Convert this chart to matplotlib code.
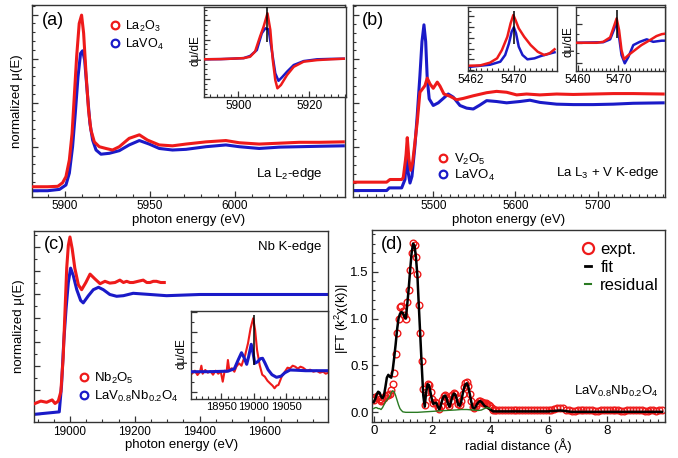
import matplotlib
matplotlib.use('Agg')
import matplotlib.pyplot as plt
from matplotlib.lines import Line2D
from matplotlib.ticker import MultipleLocator, NullFormatter, FixedLocator

plt.rcParams['font.family'] = ['Liberation Sans', 'DejaVu Sans']
plt.rcParams['mathtext.fontset'] = 'custom'
plt.rcParams['mathtext.rm'] = 'Liberation Sans'
plt.rcParams['mathtext.it'] = 'Liberation Sans:italic'
plt.rcParams['mathtext.bf'] = 'Liberation Sans:bold'

# ---------------- tick label values ----------------
a_xticks = [5900, 5950, 6000]
ia_xticks = [5900, 5920]
b_xticks = [5500, 5600, 5700]
ib1_xticks = [5462, 5470]
ib2_xticks = [5460, 5470]
c_xticks = [19000, 19200, 19400, 19600]
ic_xticks = [18950, 19000, 19050]
d_xticks = [0, 2, 4, 6, 8]
d_yticks = [0.0, 0.5, 1.0, 1.5]

# ---------------- data: panel (a) La L2-edge ----------------
a_la2o3_E = [5881, 5890, 5896, 5898.8, 5900.8, 5902.8, 5904.4, 5905.7, 5907.1, 5908.6, 5910.0, 5911.2,
             5912.6, 5914.1, 5915.5, 5917.5, 5920.4, 5924.3, 5928.2, 5932.2, 5938.0, 5944.0, 5948.8,
             5955.7, 5963.5, 5971.4, 5983.2, 5994.9, 6002.8, 6014.5, 6026.3, 6038.0, 6050, 6064]
a_la2o3_mu = [0.09, 0.09, 0.10, 0.18, 0.32, 0.70, 1.30, 2.14, 3.05, 3.80, 3.99, 3.58,
              2.67, 1.83, 1.38, 1.11, 1.00, 0.96, 0.925, 1.00, 1.19, 1.27, 1.15,
              1.04, 1.02, 1.06, 1.11, 1.14, 1.09, 1.06, 1.08, 1.10, 1.10, 1.11]
a_lavo4_E = [5881, 5890, 5897, 5900.8, 5902.8, 5904.7, 5906.3, 5907.9, 5909.4, 5910.6, 5911.8, 5913.4,
             5914.9, 5916.5, 5918.5, 5921.4, 5926.3, 5932.2, 5938.0, 5944.0, 5949.8, 5955.7, 5963.5,
             5971.4, 5983.2, 5994.9, 6002.8, 6014.5, 6026.3, 6038.0, 6050, 6064]
a_lavo4_mu = [0.0, 0.0, 0.03, 0.13, 0.40, 1.00, 1.76, 2.59, 3.12, 3.18, 2.97, 2.21,
              1.53, 1.15, 0.925, 0.83, 0.85, 0.91, 1.04, 1.14, 1.06, 0.96, 0.925,
              0.94, 1.00, 1.04, 1.00, 0.96, 0.99, 1.00, 1.01, 1.02]
# inset (a): derivative
ia_la2o3_E = [5890, 5895, 5898, 5901.5, 5903.3, 5904.7, 5906.1, 5907.1, 5908.2, 5909.0, 5909.7, 5910.4,
              5911.0, 5912.0, 5913.7, 5915.6, 5918.4, 5922.2, 5926, 5929.7]
ia_la2o3_d = [0.0, 0.01, 0.03, 0.06, 0.13, 0.39, 1.15, 1.65, 2.33, 1.49, -0.04, -1.05,
              -1.47, -1.30, -0.80, -0.38, -0.12, -0.04, 0.0, 0.03]
ia_lavo4_E = [5890, 5895, 5898, 5901.5, 5903.3, 5905.2, 5906.6, 5907.6, 5908.5, 5909.4, 5910.4, 5911.3,
              5912.3, 5913.7, 5915.6, 5918.4, 5922.2, 5926, 5929.7]
ia_lavo4_d = [0.0, 0.01, 0.03, 0.06, 0.17, 0.47, 1.32, 1.57, 1.52, 0.47, -0.71, -1.09,
              -0.91, -0.63, -0.29, -0.09, 0.0, 0.02, 0.03]
ia_mark_E = 5908.2

# ---------------- data: panel (b) La L3 + V K-edge ----------------
b_v2o5_E = [5402.7, 5443.3, 5447.3, 5461.6, 5463.5, 5466.8, 5468.4, 5470.4, 5472.5, 5474.9, 5477.7, 5480.5,
            5483.8, 5487.1, 5489.9, 5492.7, 5496.0, 5500.0, 5504.9, 5508.2, 5513.0, 5520.3, 5528.4,
            5536.5, 5548.7, 5565.0, 5577.1, 5589.3, 5601.5, 5613.6, 5629.8, 5650.1, 5670.3, 5694.6,
            5719.0, 5743.3, 5779.8]
b_v2o5_mu = [0.21, 0.21, 0.27, 0.27, 0.31, 0.80, 1.22, 0.73, 0.48, 0.65, 1.11, 1.57,
             2.25, 2.33, 2.40, 2.57, 2.44, 2.34, 2.48, 2.39, 2.21, 2.16, 2.08,
             2.11, 2.17, 2.24, 2.27, 2.25, 2.19, 2.21, 2.19, 2.21, 2.20, 2.21,
             2.22, 2.22, 2.21]
b_lavo4_E = [5402.7, 5443.3, 5446.5, 5461.6, 5465.6, 5467.6, 5469.6, 5471.7, 5474.1, 5477.7, 5480.5,
             5483.8, 5486.3, 5488.7, 5490.8, 5492.7, 5495.1, 5500.0, 5506.1, 5512.2, 5518.2, 5524.3,
             5532.5, 5540.6, 5548.7, 5556.8, 5565.0, 5577.1, 5589.3, 5605.5, 5617.6, 5629.8, 5650.1,
             5670.3, 5694.6, 5719.0, 5743.3, 5779.8]
b_lavo4_mu = [0.02, 0.02, 0.08, 0.08, 0.27, 0.88, 0.42, 0.19, 0.34, 1.03, 1.72,
              2.63, 3.40, 3.78, 3.40, 2.56, 2.10, 1.95, 2.01, 2.11, 2.21, 2.14,
              1.95, 1.89, 1.87, 1.96, 2.06, 2.04, 2.01, 2.04, 2.07, 2.02, 1.98,
              1.97, 1.97, 1.98, 2.00, 2.01]
# inset b1: pre-edge
ib1_v2o5_E = [5461.9, 5463.8, 5465.6, 5466.9, 5467.8, 5468.8, 5469.4, 5469.9, 5470.3, 5470.9, 5471.9,
              5473.1, 5474.4, 5475.6, 5476.6, 5477.5]
ib1_v2o5_mu = [-0.59, -0.56, -0.31, 0.09, 0.86, 2.09, 3.33, 4.10, 3.64, 2.87, 2.09,
               1.32, 0.70, 0.40, 0.56, 0.93]
ib1_lavo4_E = [5461.9, 5465.6, 5467.5, 5468.4, 5469.1, 5469.6, 5470.0, 5470.4, 5470.9, 5471.6, 5472.5,
               5473.8, 5475.0, 5476.3, 5477.5]
ib1_lavo4_mu = [-0.69, -0.50, -0.22, 0.40, 1.48, 2.56, 2.96, 2.41, 1.17, 0.40, 0.0,
                0.09, 0.31, 0.49, 0.65]
ib1_mark_E = 5470.0
# inset b2: derivative
ib2_v2o5_E = [5459.8, 5464.7, 5466.3, 5468.0, 5468.9, 5469.6, 5470.2, 5470.8, 5471.4, 5472.5, 5474.1,
              5475.7, 5477.8, 5479.4, 5480.7, 5481.4]
ib2_v2o5_d = [0.03, 0.03, 0.08, 0.31, 0.86, 1.30, 0.69, -0.35, -0.83, -0.61, -0.35,
              -0.09, 0.17, 0.38, 0.48, 0.50]
ib2_lavo4_E = [5459.8, 5466.3, 5468.0, 5468.9, 5469.6, 5470.2, 5470.8, 5471.6, 5472.5, 5473.7, 5475.3,
               5477.0, 5478.6, 5480.7, 5481.4]
ib2_lavo4_d = [0.03, 0.06, 0.21, 0.69, 1.12, 0.34, -0.61, -1.04, -0.70, -0.09, 0.08,
               0.21, 0.08, 0.14, 0.14]
ib2_mark_E = 5469.8

# ---------------- data: panel (c) Nb K-edge ----------------
c_nb2o5_E = [18892, 18910, 18928, 18945, 18954, 18964, 18972, 18979, 18985, 18990, 18995, 19000, 19007,
             19015, 19026, 19036, 19049, 19062, 19077, 19093, 19108, 19123, 19139, 19154, 19165, 19175,
             19185, 19195, 19210, 19226, 19237, 19247, 19257, 19267, 19280, 19291]
c_nb2o5_mu = [0.09, 0.11, 0.10, 0.12, 0.09, 0.11, 0.19, 0.47, 0.88, 1.22, 1.41, 1.48, 1.38,
              1.22, 1.08, 1.04, 1.10, 1.17, 1.13, 1.09, 1.11, 1.095, 1.10, 1.12, 1.10, 1.11,
              1.10, 1.10, 1.11, 1.12, 1.10, 1.10, 1.11, 1.11, 1.10, 1.10]
c_lavnb_E = [18892, 18967, 18974, 18981, 18988, 18995, 19002, 19010, 19021, 19033, 19041, 19057, 19072,
             19088, 19103, 19123, 19144, 19165, 19195, 19247, 19298, 19401, 19504, 19607, 19792]
c_lavnb_mu = [0.0, 0.02, 0.24, 0.61, 0.88, 1.10, 1.22, 1.16, 1.04, 0.95, 0.93, 0.99, 1.04,
              1.06, 1.04, 1.00, 0.985, 0.99, 1.01, 1.00, 0.99, 1.00, 1.00, 1.00, 1.00]
# inset c: derivative
ic_nb2o5_E = [18905, 18909, 18913, 18917, 18919, 18921, 18925, 18929, 18933, 18937, 18941, 18945, 18949,
              18952, 18955, 18958, 18960, 18962, 18966, 18970, 18973, 18977, 18981, 18984, 18986, 18991,
              18995, 18999, 19002, 19005, 19009, 19013, 19017, 19021, 19025, 19029, 19032, 19035, 19038,
              19043, 19048, 19052, 19056, 19060, 19064, 19068, 19072, 19076, 19082, 19087, 19092, 19097,
              19102, 19107, 19111, 19115]
ic_nb2o5_d = [-0.16, 0.1, -0.33, 0.0, 0.6, -0.2, 0.17, -0.1, 0.05, -0.3, 0.1, -0.2, 0.0,
              -1.0, 0.1, 0.0, 1.17, 0.2, 0.34, 0.0, 0.5, 0.84, 0.6, 1.2, 1.5, 2.84,
              4.34, 5.34, 4.17, 2.17, 0.67, -0.3, -0.5, -0.9, -1.16, -1.4, -1.66, -1.4, -1.33,
              -0.5, 0.0, 0.4, 0.34, 0.6, 0.5, 0.3, 0.5, 0.4, 0.1, 0.2, 0.0, 0.1,
              -0.1, 0.0, -0.2, -0.1]
ic_lavnb_E = [18905, 18930, 18960, 18970, 18976, 18981, 18985, 18989, 18992, 18996, 18999, 19001.5,
              19006, 19010, 19013.5, 19017, 19022, 19028, 19035, 19042, 19048, 19056, 19065, 19080,
              19095, 19115]
ic_lavnb_d = [0.0, 0.0, 0.05, 0.3, 1.2, 1.9, 1.4, 0.74, 1.5, 2.74, 1.8, 0.84,
              1.0, 1.3, 1.34, 0.9, 0.2, -0.3, -0.56, -0.45, -0.1, 0.17, 0.15, 0.1,
              0.1, 0.1]
ic_mark_E = 19000

# ---------------- data: panel (d) Fourier transform ----------------
d_expt_R = [0.00, 0.05, 0.10, 0.15, 0.20, 0.25, 0.30, 0.35, 0.40, 0.45, 0.50, 0.55, 0.60, 0.65, 0.70,
            0.75, 0.80, 0.85, 0.90, 0.95, 1.00, 1.05, 1.10, 1.15, 1.20, 1.25, 1.30, 1.35, 1.40, 1.45,
            1.50, 1.55, 1.60, 1.65, 1.70, 1.75, 1.80, 1.85, 1.90, 1.95, 2.00, 2.05, 2.10, 2.15, 2.20,
            2.25, 2.30, 2.35, 2.40, 2.45, 2.50, 2.55, 2.60, 2.65, 2.70, 2.75, 2.80, 2.85, 2.90, 2.95,
            3.00, 3.05, 3.10, 3.15, 3.20, 3.25, 3.30, 3.35, 3.40, 3.45, 3.50, 3.55, 3.60, 3.65, 3.70,
            3.75, 3.80, 3.85, 3.90, 3.95, 4.00, 4.05, 4.10, 4.15, 4.20, 4.3, 4.4, 4.5, 4.6, 4.7, 4.8,
            4.9, 5.0, 5.1, 5.2, 5.3, 5.4, 5.5, 5.6, 5.7, 5.8, 5.9, 6.0, 6.1, 6.2, 6.3, 6.4, 6.5, 6.6,
            6.7, 6.8, 6.9, 7.0, 7.1, 7.2, 7.3, 7.4, 7.5, 7.6, 7.7, 7.8, 7.9, 8.0, 8.1, 8.2, 8.3, 8.4,
            8.5, 8.6, 8.7, 8.8, 8.9, 9.0, 9.1, 9.2, 9.3, 9.4, 9.5, 9.6, 9.7, 9.8, 9.9]
d_expt = [0.13, 0.15, 0.17, 0.16, 0.14, 0.12, 0.13, 0.15, 0.17, 0.18, 0.19, 0.20, 0.24, 0.30, 0.42,
          0.62, 0.85, 1.00, 1.12, 1.13, 1.08, 1.04, 1.00, 1.18, 1.30, 1.52, 1.70, 1.81, 1.79, 1.66,
          1.48, 1.15, 0.85, 0.55, 0.25, 0.08, 0.22, 0.30, 0.29, 0.22, 0.14, 0.10, 0.11, 0.10, 0.06,
          0.04, 0.07, 0.13, 0.17, 0.18, 0.15, 0.09, 0.07, 0.12, 0.18, 0.21, 0.20, 0.15, 0.09, 0.08,
          0.12, 0.20, 0.27, 0.31, 0.32, 0.28, 0.20, 0.12, 0.06, 0.05, 0.07, 0.10, 0.12, 0.12, 0.11,
          0.10, 0.10, 0.10, 0.09, 0.08, 0.07, 0.05, 0.03, 0.02, 0.02, 0.02, 0.02, 0.03, 0.03, 0.03, 0.02,
          0.02, 0.02, 0.02, 0.02, 0.02, 0.02, 0.02, 0.02, 0.02, 0.02, 0.02, 0.03, 0.03, 0.04, 0.05, 0.05, 0.05, 0.03,
          0.02, 0.01, 0.01, 0.02, 0.02, 0.02, 0.02, 0.02, 0.02, 0.01, 0.01, 0.02, 0.02, 0.02, 0.02, 0.02, 0.02, 0.02,
          0.01, 0.01, 0.02, 0.02, 0.02, 0.02, 0.02, 0.02, 0.01, 0.01, 0.02, 0.02, 0.01, 0.02, 0.02]
d_fit_R = [0.00, 0.05, 0.10, 0.15, 0.20, 0.25, 0.30, 0.35, 0.40, 0.45, 0.50, 0.55, 0.60, 0.65, 0.70,
           0.75, 0.80, 0.85, 0.90, 0.95, 1.00, 1.05, 1.10, 1.15, 1.20, 1.25, 1.30, 1.35, 1.40, 1.45,
           1.50, 1.55, 1.60, 1.65, 1.70, 1.75, 1.80, 1.85, 1.90, 1.95, 2.00, 2.05, 2.10, 2.15, 2.20,
           2.25, 2.30, 2.35, 2.40, 2.45, 2.50, 2.55, 2.60, 2.65, 2.70, 2.75, 2.80, 2.85, 2.90, 2.95,
           3.00, 3.05, 3.10, 3.15, 3.20, 3.25, 3.30, 3.35, 3.40, 3.45, 3.50, 3.55, 3.60, 3.65, 3.70,
           3.75, 3.80, 3.85, 3.90, 3.95, 4.00, 4.05, 4.10, 4.2, 4.5, 5.0, 5.5, 6.0, 6.4, 6.8, 7.5, 8.0,
           9.0, 9.9]
d_fit = [0.11, 0.14, 0.19, 0.22, 0.21, 0.17, 0.15, 0.18, 0.27, 0.37, 0.40, 0.38, 0.37, 0.45, 0.58,
         0.72, 0.88, 1.00, 1.05, 1.07, 1.06, 1.02, 1.00, 1.15, 1.32, 1.52, 1.70, 1.80, 1.78, 1.65,
         1.45, 1.12, 0.80, 0.48, 0.18, 0.06, 0.22, 0.30, 0.29, 0.21, 0.13, 0.09, 0.10, 0.10, 0.06,
         0.03, 0.07, 0.13, 0.17, 0.18, 0.15, 0.09, 0.06, 0.11, 0.17, 0.20, 0.19, 0.14, 0.08, 0.07,
         0.11, 0.19, 0.26, 0.30, 0.31, 0.27, 0.19, 0.11, 0.05, 0.04, 0.06, 0.09, 0.11, 0.12, 0.11,
         0.09, 0.07, 0.06, 0.05, 0.04, 0.03, 0.02, 0.01, 0.01, 0.01, 0.01, 0.01, 0.01, 0.02, 0.005, 0.005, 0.005,
         0.005, 0.005]
d_res_R = [0.00, 0.05, 0.10, 0.15, 0.20, 0.25, 0.30, 0.35, 0.40, 0.45, 0.50, 0.55, 0.60, 0.65, 0.70,
           0.75, 0.80, 0.85, 0.90, 0.95, 1.00, 1.10, 1.50, 2.00, 2.50, 2.80, 3.00, 3.20, 3.40, 3.60,
           3.70, 3.80, 3.90, 4.00]
d_res = [0.04, 0.05, 0.05, 0.04, 0.04, 0.03, 0.05, 0.08, 0.11, 0.13, 0.15, 0.17, 0.21, 0.23, 0.22,
         0.18, 0.13, 0.08, 0.04, 0.02, 0.005, 0.0, 0.0, 0.01, 0.02, 0.025, 0.03, 0.03, 0.025, 0.02,
         0.025, 0.04, 0.05, 0.04]

RED = '#ee1a1a'
BLUE = '#1a1ac8'
GREEN = '#2a7a22'
SPINE = '#333333'

W, H = 678.0, 458.0
fig = plt.figure(figsize=(W / 100, H / 100), dpi=100)


def add_axes(l, t, r, b):
    return fig.add_axes([l / W, 1 - b / H, (r - l) / W, (b - t) / H])


def style(ax, xmaj, xmin, ymaj, ymin, fs, ylabels=False):
    for s in ax.spines.values():
        s.set_linewidth(1.0)
        s.set_color(SPINE)
    ax.xaxis.set_major_locator(xmaj)
    ax.xaxis.set_minor_locator(xmin)
    ax.yaxis.set_major_locator(ymaj)
    ax.yaxis.set_minor_locator(ymin)
    if not ylabels:
        ax.yaxis.set_major_formatter(NullFormatter())
    ax.tick_params(which='both', direction='in', top=False, right=False, color=SPINE,
                   labelsize=fs, pad=2.5)
    ax.tick_params(which='major', length=4.5, width=0.9)
    ax.tick_params(which='minor', length=2.2, width=0.8)


def circ(color, ms):
    return Line2D([], [], ls='none', marker='o', mfc='none', mec=color, ms=ms, mew=1.6)


# ---------------- panel (a) ----------------
axa = add_axes(32.3, 5, 345, 196.7)
axa.plot(a_la2o3_E, a_la2o3_mu, color=RED, lw=2.2, zorder=3)
axa.plot(a_lavo4_E, a_lavo4_mu, color=BLUE, lw=2.2, zorder=2)
axa.set_xlim(5881, 6065)
axa.set_ylim(-0.136, 4.22)
style(axa, FixedLocator(a_xticks), MultipleLocator(10), MultipleLocator(1), MultipleLocator(0.2), 8.5)
axa.set_xlabel('photon energy (eV)', fontsize=9.5, labelpad=1)
axa.set_ylabel('normalized μ(E)', fontsize=9.5)
axa.yaxis.set_label_coords(-0.03, 0.5)
axa.text(0.03, 0.918, '(a)', transform=axa.transAxes, fontsize=13, ha='left', va='center')
axa.text(0.929, 0.118, 'La L$_2$-edge', transform=axa.transAxes, fontsize=9.5, ha='right', va='center')
axa.legend([circ(RED, 5.5), circ(BLUE, 5.5)], ['La$_2$O$_3$', 'LaVO$_4$'], loc='upper left',
           bbox_to_anchor=(0.245, 0.93), frameon=False, fontsize=9, handlelength=1.0,
           handletextpad=0.3, labelspacing=0.25, borderpad=0, borderaxespad=0)

iaa = add_axes(204, 7, 345.5, 97)
iaa.plot(ia_la2o3_E, ia_la2o3_d, color=RED, lw=1.8, zorder=3)
iaa.plot(ia_lavo4_E, ia_lavo4_d, color=BLUE, lw=1.8, zorder=2)
iaa.set_xlim(5890.3, 5930.2)
iaa.set_ylim(-1.91, 2.65)
iaa.vlines([ia_mark_E], 0.89, 2.65, color='k', lw=1.1, zorder=4)
style(iaa, FixedLocator(ia_xticks), MultipleLocator(2), MultipleLocator(1), MultipleLocator(0.25), 8.5)
iaa.set_ylabel('dμ/dE', fontsize=8.5)
iaa.yaxis.set_label_coords(-0.02, 0.52)

# ---------------- panel (b) ----------------
axb = add_axes(352.7, 5, 665, 196.7)
axb.plot(b_v2o5_E, b_v2o5_mu, color=RED, lw=2.2, zorder=3)
axb.plot(b_lavo4_E, b_lavo4_mu, color=BLUE, lw=2.2, zorder=2)
axb.set_xlim(5402, 5782)
axb.set_ylim(-0.12, 4.23)
style(axb, FixedLocator(b_xticks), MultipleLocator(10), MultipleLocator(1), MultipleLocator(0.2), 8.5)
axb.set_xlabel('photon energy (eV)', fontsize=9.5, labelpad=1)
axb.text(0.029, 0.918, '(b)', transform=axb.transAxes, fontsize=13, ha='left', va='center')
axb.text(0.982, 0.122, 'La L$_3$ + V K-edge', transform=axb.transAxes, fontsize=9.5, ha='right', va='center')
axb.legend([circ(RED, 5.5), circ(BLUE, 5.5)], ['V$_2$O$_5$', 'LaVO$_4$'], loc='upper left',
           bbox_to_anchor=(0.269, 0.235), frameon=False, fontsize=9.5, handlelength=1.0,
           handletextpad=0.3, labelspacing=0.1, borderpad=0, borderaxespad=0)

ib1 = add_axes(468.3, 6.7, 556.7, 71)
ib1.plot(ib1_v2o5_E, ib1_v2o5_mu, color=RED, lw=1.8, zorder=3)
ib1.plot(ib1_lavo4_E, ib1_lavo4_mu, color=BLUE, lw=1.8, zorder=2)
ib1.set_xlim(5461.6, 5477.9)
ib1.set_ylim(-1.08, 4.87)
ib1.vlines([ib1_mark_E], 1.42, 4.5, color='k', lw=1.1, zorder=4)
style(ib1, FixedLocator(ib1_xticks), MultipleLocator(1), MultipleLocator(1), MultipleLocator(0.5), 8.5)

ib2 = add_axes(576, 6.7, 665, 71)
ib2.plot(ib2_v2o5_E, ib2_v2o5_d, color=RED, lw=1.8, zorder=3)
ib2.plot(ib2_lavo4_E, ib2_lavo4_d, color=BLUE, lw=1.8, zorder=2)
ib2.set_xlim(5459.6, 5481.5)
ib2.set_ylim(-1.44, 1.91)
ib2.vlines([ib2_mark_E], 0.26, 1.73, color='k', lw=1.1, zorder=4)
style(ib2, FixedLocator(ib2_xticks), MultipleLocator(1), MultipleLocator(1), MultipleLocator(0.5), 8.5)
ib2.set_ylabel('dμ/dE', fontsize=8.5)
ib2.yaxis.set_label_coords(-0.022, 0.456)

# ---------------- panel (c) ----------------
axc = add_axes(34.3, 231, 328.3, 422.3)
axc.plot(c_nb2o5_E, c_nb2o5_mu, color=RED, lw=2.2, zorder=3)
axc.plot(c_lavnb_E, c_lavnb_mu, color=BLUE, lw=2.2, zorder=2)
axc.set_xlim(18890, 19797)
axc.set_ylim(-0.067, 1.53)
style(axc, FixedLocator(c_xticks), MultipleLocator(50), MultipleLocator(0.2), MultipleLocator(0.1), 8.5)
axc.set_xlabel('photon energy (eV)', fontsize=9.5, labelpad=1)
axc.set_ylabel('normalized μ(E)', fontsize=9.5)
axc.yaxis.set_label_coords(-0.032, 0.5)
axc.text(0.031, 0.93, '(c)', transform=axc.transAxes, fontsize=13, ha='left', va='center')
axc.text(0.978, 0.918, 'Nb K-edge', transform=axc.transAxes, fontsize=9.5, ha='right', va='center')
axc.legend([circ(RED, 5.5), circ(BLUE, 5.5)], ['Nb$_2$O$_5$', 'LaV$_{0.8}$Nb$_{0.2}$O$_4$'], loc='upper left',
           bbox_to_anchor=(0.145, 0.27), frameon=False, fontsize=9.5, handlelength=1.0,
           handletextpad=0.3, labelspacing=0.25, borderpad=0, borderaxespad=0)

icc = add_axes(191, 311, 328.3, 399)
icc.plot(ic_nb2o5_E, ic_nb2o5_d, color=RED, lw=1.5, zorder=2)
icc.plot(ic_lavnb_E, ic_lavnb_d, color=BLUE, lw=2.2, zorder=3)
icc.set_xlim(18903, 19115)
icc.set_ylim(-2.73, 6.07)
icc.vlines([ic_mark_E], 0.67, 5.67, color='k', lw=1.1, zorder=4)
style(icc, FixedLocator(ic_xticks), MultipleLocator(10), MultipleLocator(2), MultipleLocator(1), 8)
icc.set_ylabel('dμ/dE', fontsize=8.5)
icc.yaxis.set_label_coords(-0.022, 0.52)

# ---------------- panel (d) ----------------
axd = add_axes(372.3, 230, 665, 421.7)
axd.plot(d_expt_R, d_expt, ls='none', marker='o', mfc='none', mec=RED, ms=4.8, mew=1.0, zorder=2)
axd.plot(d_fit_R, d_fit, color='k', lw=1.8, zorder=3)
axd.plot(d_res_R, d_res, color=GREEN, lw=1.0, zorder=4)
axd.set_xlim(-0.05, 10.0)
axd.set_ylim(-0.1, 1.945)
style(axd, FixedLocator(d_xticks), MultipleLocator(0.25), FixedLocator(d_yticks), MultipleLocator(0.1), 9.5,
      ylabels=True)
axd.yaxis.set_major_formatter(plt.FuncFormatter(lambda v, p: f'{v:.1f}'))
axd.set_xlabel('radial distance (Å)', fontsize=9.5, labelpad=1)
axd.set_ylabel('|FT (k$^2$χ(k))|', fontsize=9.5)
axd.yaxis.set_label_coords(-0.073, 0.54)
axd.text(0.029, 0.922, '(d)', transform=axd.transAxes, fontsize=13, ha='left', va='center')
axd.text(0.977, 0.156, 'LaV$_{0.8}$Nb$_{0.2}$O$_4$', transform=axd.transAxes, fontsize=9.5,
         ha='right', va='center')
axd.legend([circ(RED, 8), Line2D([], [], color='k', lw=2), Line2D([], [], color=GREEN, lw=1.5)],
           ['expt.', 'fit', 'residual'], loc='upper left', bbox_to_anchor=(0.725, 0.94),
           frameon=False, fontsize=12, handlelength=0.4, handletextpad=0.55, labelspacing=0.18,
           borderpad=0, borderaxespad=0)

fig.savefig('out.png', dpi=100)
